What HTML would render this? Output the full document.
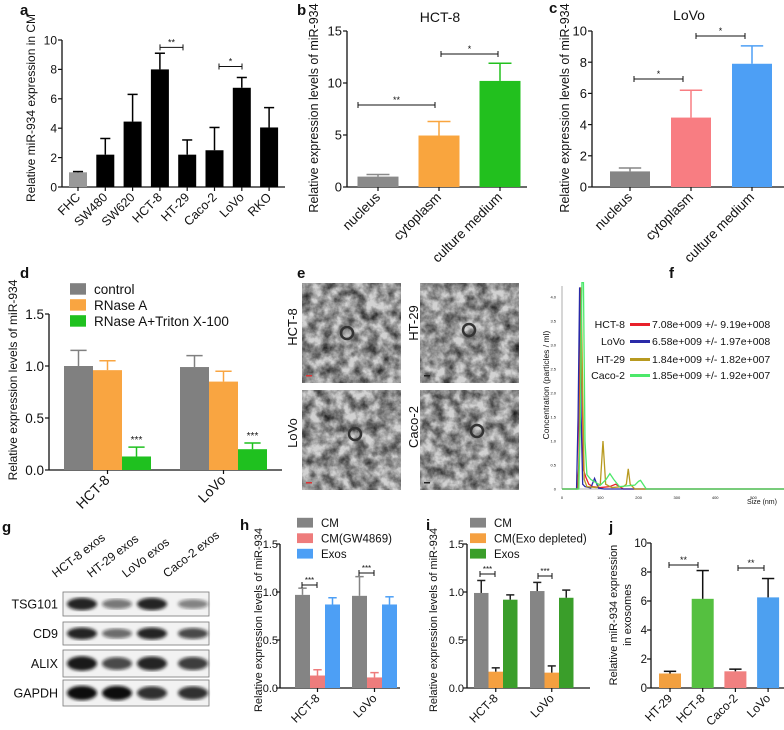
<!DOCTYPE html>
<html><head><meta charset="utf-8">
<style>
html,body{margin:0;padding:0;background:#fff;}
svg{display:block;font-family:"Liberation Sans",sans-serif;}
</style></head>
<body>
<svg id="fig" width="784" height="730" viewBox="0 0 784 730" xmlns="http://www.w3.org/2000/svg">
<defs>
<filter id="tem" x="0" y="0" width="100%" height="100%">
<feTurbulence type="fractalNoise" baseFrequency="0.09" numOctaves="4" seed="3"/>
<feColorMatrix type="matrix" values="0 0 0 0 0  0 0 0 0 0  0 0 0 0 0  0 0 0 -1.3 0.95"/>
</filter>
<filter id="blur"><feGaussianBlur stdDeviation="1.6"/></filter>
</defs>
</svg>
<script>
// ---------- data ----------
const aCats=['FHC','SW480','SW620','HCT-8','HT-29','Caco-2','LoVo','RKO'];
const aVals=[1.0,2.2,4.45,8.0,2.2,2.5,6.75,4.05];
const aErr=[0.05,1.1,1.85,1.1,1.0,1.55,0.7,1.35];
const aTicks=[0,2,4,6,8,10];
const bCats=['nucleus','cytoplasm','culture medium'];
const bVals=[1.0,4.95,10.2];
const bErr=[0.2,1.35,1.7];
const bTicks=[0,5,10,15];
const cCats=['nucleus','cytoplasm','culture medium'];
const cVals=[1.0,4.45,7.9];
const cErr=[0.22,1.75,1.15];
const cTicks=[0,2,4,6,8,10];
const dGroups=['HCT-8','LoVo'];
const dSeries=['control','RNase A','RNase A+Triton X-100'];
const dVals=[[1.0,0.96,0.13],[0.99,0.85,0.20]];
const dErr=[[0.15,0.09,0.09],[0.11,0.1,0.06]];
const dTicks=[0,0.5,1.0,1.5];
const dTickLabels=['0.0','0.5','1.0','1.5'];
const hGroups=['HCT-8','LoVo'];
const hSeries=['CM','CM(GW4869)','Exos'];
const hVals=[[0.97,0.13,0.87],[0.96,0.11,0.87]];
const hErr=[[0.07,0.06,0.07],[0.2,0.05,0.08]];
const iGroups=['HCT-8','LoVo'];
const iSeries=['CM','CM(Exo depleted)','Exos'];
const iVals=[[0.99,0.17,0.92],[1.01,0.16,0.94]];
const iErr=[[0.13,0.04,0.05],[0.09,0.07,0.08]];
const jCats=['HT-29','HCT-8','Caco-2','LoVo'];
const jVals=[1.0,6.15,1.15,6.25];
const jErr=[0.15,1.95,0.15,1.3];
const jTicks=[0,2,4,6,8,10];
const fNames=['HCT-8','LoVo','HT-29','Caco-2'];
const fStats=['7.08e+009 +/- 9.19e+008','6.58e+009 +/- 1.97e+008','1.84e+009 +/- 1.82e+007','1.85e+009 +/- 1.92e+007'];
const fHctS=[0,40,44,48,52,56,62,70,80,100,125,140,150,160,600];
const fHctC=[0,0,0.5,4.2,2.5,0.4,0.25,0.1,0.05,0.03,0.05,0.1,0.05,0,0];
const fLovoS=[0,38,42,46,50,54,60,75,85,95,110,600];
const fLovoC=[0,0,1.5,4.2,1.5,0.1,0.05,0.02,0.22,0.02,0,0];
const fHt29S=[0,42,46,50,54,58,65,90,100,107,114,130,160,168,173,178,190,600];
const fHt29C=[0,0,1,4.2,2,0.2,0.05,0.03,0.1,1.0,0.1,0.03,0.05,0.1,0.42,0.1,0,0];
const fCacoS=[0,44,48,52,56,60,65,75,100,115,125,135,150,190,200,205,210,220,600];
const fCacoC=[0,0,1.5,4.3,4.3,1.0,0.3,0.2,0.08,0.2,0.32,0.2,0.05,0.08,0.16,0.18,0.12,0,0];
const fYTicks=[0,0.5,1.0,1.5,2.0,2.5,3.0,3.5,4.0];
const fXTicks=[0,100,200,300,400,500];
const gLanes=['HCT-8 exos','HT-29 exos','LoVo exos','Caco-2 exos'];
const gRows=['TSG101','CD9','ALIX','GAPDH'];
const gIntensity=[[0.9,0.55,0.9,0.5],[0.9,0.6,0.9,0.75],[0.95,0.75,0.9,0.8],[1,1,0.85,0.85]];

// ---------- helpers ----------
const NS='http://www.w3.org/2000/svg';
const svg=document.getElementById('fig');
function mk(tag,attrs,name){
  const el=document.createElementNS(NS,tag);
  for(const k in attrs) el.setAttribute(k,attrs[k]);
  
  
  svg.appendChild(el);
  return el;
}
function txt(x,y,s,size,anchor,rot,name,weight){
  const a={x:x,y:y,'font-size':size,'text-anchor':anchor||'start',fill:'#111'};
  if(rot) a.transform='rotate('+rot+' '+x+' '+y+')';
  if(weight) a['font-weight']=weight;
  const t=mk('text',a,name);
  t.textContent=s;
  return t;
}
function line(x1,y1,x2,y2,c,w,name){return mk('line',{x1:x1,y1:y1,x2:x2,y2:y2,stroke:c||'#111','stroke-width':w||1.3},name);}
function yScale(y0,y1,vmax){return v=>y0-(y0-y1)*v/vmax;}
function yAxis(x,y0,y1,vmax,ticks,labels,fs,xEnd,prefix,gap){
  const sy=yScale(y0,y1,vmax);
  const g=gap===undefined?5:gap;
  line(x,y0,x,sy(ticks[ticks.length-1]),'#111',1.3,prefix+'-y-axis');
  line(x,y0,xEnd,y0,'#111',1.3,prefix+'-x-axis');
  ticks.forEach((t,i)=>{
    line(x-4,sy(t),x,sy(t),'#111',1.2,prefix+'-y-tick');
    txt(x-g,sy(t)+fs*0.36,labels?labels[i]:String(t),fs,'end',0,prefix+'-y-tick-label');
  });
  return sy;
}
function bar(cx,w,v,e,sy,color,ecolor,name){
  mk('rect',{x:cx-w/2,y:sy(v),width:w,height:sy(0)-sy(v),fill:color},name);
  const top=sy(v+e);
  line(cx,sy(v),cx,top,ecolor||color,1.5,name+'-error');
  line(cx-w*0.28,top,cx+w*0.28,top,ecolor||color,1.5,name+'-error-cap');
}
function sig(x1,x2,y,label,name,fs){
  line(x1,y,x2,y,'#111',1,name+'-bracket');
  line(x1,y-3,x1,y+3,'#111',1,name+'-bracket-end');
  line(x2,y-3,x2,y+3,'#111',1,name+'-bracket-end');
  txt((x1+x2)/2,y-2,label,fs||9,'middle',0,name+'-label');
}
function xlab(cx,y0,s,fs,name){txt(cx+3,y0+11,s,fs,'end',-45,name);}
function legend(x,y,colors,labels,fs,gap,name){
  labels.forEach((l,i)=>{
    mk('rect',{x:x,y:y+i*gap-fs*0.8,width:16,height:fs*0.85,fill:colors[i]},name+'-swatch');
    txt(x+24,y+i*gap,l,fs,'start',0,name+'-entry');
  });
}

// ---------- panel letters ----------
[['a',20,15],['b',297,15],['c',549,13],['d',20,278],['e',297,278],['f',669,278],['g',2,532],['h',240,530],['i',426,530],['j',609,532]]
 .forEach(p=>txt(p[1],p[2],p[0],15,'start',0,'panel-label-'+p[0],'bold'));

// ---------- panel a ----------
(function(){
  const sy=yAxis(62,187,40,10,aTicks,null,12,285,'a');
  aCats.forEach((c,i)=>{
    const cx=78+i*27.3;
    bar(cx,18,aVals[i],aErr[i],sy,i===0?'#999':'#000','#000','a-bar-'+c.toLowerCase());
    line(cx,187,cx,191,'#111',1.2,'a-x-tick');
    xlab(cx,187,c,12.5,'a-x-label');
  });
  sig(160,183,sy(9.5),'**','a-sig-hct8');
  sig(219,242,sy(8.2),'*','a-sig-lovo');
  txt(35,108,'Relative miR-934 expression  in CM',12,'middle',-90,'a-y-axis-title');
})();

// ---------- panel b ----------
(function(){
  const colors=['#8a8a8a','#f9a53e','#22c01e'];
  const sy=yAxis(347,187,31,15,bTicks,null,13,527,'b');
  bCats.forEach((c,i)=>{
    const cx=378+i*61;
    bar(cx,41,bVals[i],bErr[i],sy,colors[i],colors[i],'b-bar-'+i);
    line(cx,187,cx,191,'#111',1.2,'b-x-tick');
    xlab(cx,187,c,13.5,'b-x-label');
  });
  sig(358,435,105,'**','b-sig-1');
  sig(441,498,54,'*','b-sig-2');
  txt(440,22,'HCT-8',14,'middle',0,'b-title');
  txt(318,108,'Relative expression levels of miR-934',12.5,'middle',-90,'b-y-axis-title');
})();

// ---------- panel c ----------
(function(){
  const colors=['#858585','#f87d82','#4d9ff5'];
  const sy=yAxis(592,187,31,10,cTicks,null,13,784,'c');
  cCats.forEach((c,i)=>{
    const cx=630+i*61;
    bar(cx,40,cVals[i],cErr[i],sy,colors[i],colors[i],'c-bar-'+i);
    line(cx,187,cx,191,'#111',1.2,'c-x-tick');
    xlab(cx,187,c,13.5,'c-x-label');
  });
  sig(634,683,79,'*','c-sig-1');
  sig(696,745,36,'*','c-sig-2');
  txt(689,20,'LoVo',14,'middle',0,'c-title');
  txt(569,108,'Relative expression levels of miR-934',12.5,'middle',-90,'c-y-axis-title');
})();

// ---------- grouped panel helper ----------
function grouped(p){
  const sy=yAxis(p.ax,p.y0,p.y1,1.5,dTicks,dTickLabels,p.fs,p.xEnd,p.prefix,p.gap);
  p.groups.forEach((g,gi)=>{
    p.vals[gi].forEach((v,si)=>{
      const cx=p.gx[gi]+si*p.w+p.w/2;
      bar(cx,p.w,v,p.err[gi][si],sy,p.colors[si],p.ecolors[si],p.prefix+'-bar-'+g.toLowerCase()+'-'+si);
    });
    const gc=p.gx[gi]+p.w*1.5;
    line(gc,p.y0,gc,p.y0+4,'#111',1.2,p.prefix+'-x-tick');
    xlab(gc,p.y0,g,p.xfs,p.prefix+'-x-label');
  });
  return sy;
}

// ---------- panel d ----------
(function(){
  const colors=['#808080','#f9a541','#1fc11f'];
  const sy=grouped({ax:49,y0:470,y1:314,fs:13.5,xEnd:282,prefix:'d',groups:dGroups,vals:dVals,err:dErr,gx:[64,180],w:29,colors:colors,ecolors:colors,xfs:14});
  dGroups.forEach((g,gi)=>{
    const cx=64+gi*116+2.5*29;
    txt(cx,sy(dVals[gi][2]+dErr[gi][2])-4,'***',10,'middle',0,'d-sig-'+gi);
  });
  legend(70,294,colors,dSeries,13.5,16,'d-legend');
  txt(17,380,'Relative expression levels of miR-934',12,'middle',-90,'d-y-axis-title');
})();

// ---------- panel e (TEM) ----------
(function(){
  const imgs=[[302,283,'HCT-8',293,327],[420,283,'HT-29',414,323],[302,390,'LoVo',293,433],[420,390,'Caco-2',414,427]];
  imgs.forEach((m,k)=>{
    mk('rect',{x:m[0],y:m[1],width:99,height:100,fill:'#d2d2d2'},'e-image-bg');
    mk('rect',{x:m[0],y:m[1],width:99,height:100,fill:'#000',filter:'url(#tem)'},'e-image-'+m[2].toLowerCase());
    mk('circle',{cx:m[0]+45+k*4,cy:m[1]+50-k*3,r:6,fill:'none',stroke:'#333','stroke-width':2.5},'e-vesicle');
    mk('rect',{x:m[0]+4,y:m[1]+92,width:6,height:1.5,fill:(k===0||k===2)?'#d33':'#222'},'e-scale-bar');
    txt(m[3]+4,m[4],m[2],13,'middle',-90,'e-label');
  });
})();

// ---------- panel f (NTA) ----------
(function(){
  const sx=s=>562+s*0.383;
  const sy=c=>489-c*48;
  line(562,489,784,489,'#999',0.8,'f-x-axis');
  line(562,489,562,286,'#999',0.8,'f-y-axis');
  fYTicks.forEach(t=>txt(556,sy(t)+1.5,t===0?'0':t.toFixed(1),4,'end',0,'f-y-tick-label'));
  fXTicks.forEach(t=>txt(sx(t),499,String(t),4,'middle',0,'f-x-tick-label'));
  const series=[[fHctS,fHctC,'#e8202a'],[fLovoS,fLovoC,'#2a2aa8'],[fHt29S,fHt29C,'#b89a20'],[fCacoS,fCacoC,'#4ce86a']];
  series.forEach((s,k)=>{
    const pts=s[0].map((v,i)=>Math.min(sx(v),784)+','+sy(s[1][i])).join(' ');
    mk('polyline',{points:pts,fill:'none',stroke:s[2],'stroke-width':1.3},'f-line-'+fNames[k].toLowerCase());
  });
  const ly=[328,345,363,379];
  fNames.forEach((n,k)=>{
    txt(625,ly[k],n,10.5,'end',0,'f-legend-name');
    line(630,ly[k]-3.5,650,ly[k]-3.5,series[k][2],3,'f-legend-swatch');
    txt(652,ly[k],fStats[k],10.5,'start',0,'f-legend-value');
  });
  txt(762,504,'Size (nm)',7,'middle',0,'f-x-axis-title');
  txt(549,385,'Concentration (particles / ml)',8.5,'middle',-90,'f-y-axis-title');
})();

// ---------- panel g (western blot) ----------
(function(){
  const rows=[[592,616],[622,645],[650,677],[680,706]];
  const lx=[82,117,152,193];
  gRows.forEach((r,ri)=>{
    mk('rect',{x:63,y:rows[ri][0],width:146,height:rows[ri][1]-rows[ri][0],fill:'#f2f2f2',stroke:'#777','stroke-width':0.8},'g-blot-'+r.toLowerCase());
    txt(58,(rows[ri][0]+rows[ri][1])/2+4.5,r,12.5,'end',0,'g-row-label');
    gLanes.forEach((l,li)=>{
      const it=gIntensity[ri][li];
      const h=(rows[ri][1]-rows[ri][0])*(0.25+0.3*it);
      mk('ellipse',{cx:lx[li],cy:(rows[ri][0]+rows[ri][1])/2,rx:15,ry:h/2,fill:'#111','fill-opacity':it,filter:'url(#blur)'},'g-band');
    });
  });
  gLanes.forEach((l,li)=>txt(lx[li]-26,578,l,12,'start',-38,'g-lane-label'));
})();

// ---------- panel h ----------
(function(){
  const colors=['#848484','#ee7c7c','#4d9ff5'];
  const sy=grouped({ax:280,y0:688,y1:544,fs:11,xEnd:400,prefix:'h',groups:hGroups,vals:hVals,err:hErr,gx:[295,352],w:15,colors:colors,ecolors:colors,xfs:12,gap:2});
  sig(302,317,585,'***','h-sig-hct8',8);
  sig(359,374,573,'***','h-sig-lovo',8);
  legend(297,527,colors,hSeries,11.5,15.5,'h-legend');
  txt(262,620,'Relative expression levels of miR-934',11,'middle',-90,'h-y-axis-title');
})();

// ---------- panel i ----------
(function(){
  const colors=['#858585','#f5a040','#3a9e2a'];
  const ecolors=['#222','#222','#222'];
  const sy=grouped({ax:467,y0:688,y1:544,fs:11,xEnd:590,prefix:'i',groups:iGroups,vals:iVals,err:iErr,gx:[474,530],w:14.5,colors:colors,ecolors:ecolors,xfs:12,gap:3});
  sig(480,495,574,'***','i-sig-hct8',8);
  sig(538,552,576,'***','i-sig-lovo',8);
  legend(470,527,colors,iSeries,11.5,15.5,'i-legend');
  txt(437,620,'Relative expression levels of miR-934',11,'middle',-90,'i-y-axis-title');
})();

// ---------- panel j ----------
(function(){
  const colors=['#f2a040','#55c040','#f08080','#4da0f0'];
  const sy=yAxis(651,688,543,10,jTicks,null,11.5,784,'j',4);
  jCats.forEach((c,i)=>{
    const cx=670+i*32.7;
    bar(cx,22,jVals[i],jErr[i],sy,colors[i],'#111','j-bar-'+c.toLowerCase());
    line(cx,688,cx,692,'#111',1.2,'j-x-tick');
    xlab(cx,688,c,12,'j-x-label');
  });
  sig(669,698,565,'**','j-sig-1');
  sig(738,764,568,'**','j-sig-2');
  txt(617,615,'Relative miR-934 expression',11,'middle',-90,'j-y-axis-title');
  txt(631,615,'in exosomes',11,'middle',-90,'j-y-axis-title-2');
})();
</script>
</body></html>
